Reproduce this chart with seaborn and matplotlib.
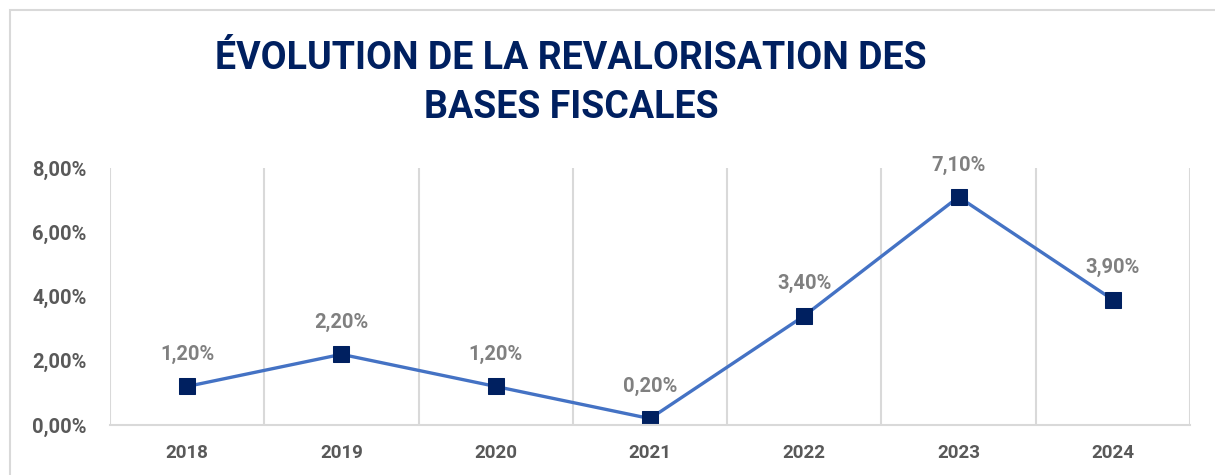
import matplotlib
matplotlib.use('Agg')
import matplotlib.pyplot as plt
import matplotlib.patches as patches
from matplotlib.ticker import FixedLocator, FuncFormatter
import seaborn as sns
import pandas as pd

# Data
annees = ['2018', '2019', '2020', '2021', '2022', '2023', '2024']
taux = [1.2, 2.2, 1.2, 0.2, 3.4, 7.1, 3.9]

titre = 'ÉVOLUTION DE LA REVALORISATION DES\nBASES FISCALES'

navy = '#002060'
line_blue = '#4472C4'
grid_grey = '#D9D9D9'
tick_grey = '#595959'
label_grey = '#808080'

sns.set_theme(style='white')
plt.rcParams['font.family'] = ['Roboto', 'DejaVu Sans']

df = pd.DataFrame({'annee': annees, 'taux': taux})

fig = plt.figure(figsize=(12.15, 4.75), dpi=100)
ax = fig.add_axes([110 / 1215, 1 - 425 / 475, 1080 / 1215, 257 / 475])

sns.lineplot(data=df, x='annee', y='taux', ax=ax, color=line_blue, linewidth=2.4,
             marker='s', markersize=12, markerfacecolor=navy, markeredgecolor=navy)

for i, v in enumerate(taux):
    ax.annotate(f'{v:.2f}%'.replace('.', ','), (i, v), xytext=(0, 23),
                textcoords='offset points', ha='center', va='center',
                fontsize=14.5, fontweight='bold', color=label_grey)

ax.set_xlim(-0.5, len(annees) - 0.5)
ax.set_ylim(0, 8)
ax.yaxis.set_major_locator(FixedLocator([0, 2, 4, 6, 8]))
ax.yaxis.set_major_formatter(FuncFormatter(lambda y, _: f'{y:.2f}%'.replace('.', ',')))

# vertical category separators
ax.xaxis.set_minor_locator(FixedLocator([i - 0.5 for i in range(len(annees) + 1)]))
ax.grid(which='minor', axis='x', color=grid_grey, linewidth=1.5)
ax.grid(which='major', visible=False)
ax.tick_params(which='both', length=0)
ax.tick_params(axis='y', pad=17, labelsize=14.5, labelcolor=tick_grey)
ax.tick_params(axis='x', pad=14, labelsize=13.5, labelcolor=tick_grey)
for lab in ax.get_yticklabels() + ax.get_xticklabels():
    lab.set_fontweight('bold')
ax.set_xlabel('')
ax.set_ylabel('')

for side in ['top', 'left', 'right']:
    ax.spines[side].set_visible(False)
ax.spines['bottom'].set_color(grid_grey)
ax.spines['bottom'].set_linewidth(1.5)

fig.text(571 / 1215, 1 - 83 / 475, titre, ha='center', va='center',
         fontsize=27, fontweight='bold', color=navy, linespacing=1.4)

# outer chart frame
frame = patches.Rectangle((10 / 1215, -0.1), 1.2, 1 - 10 / 475 + 0.1,
                          transform=fig.transFigure, fill=False,
                          edgecolor=grid_grey, linewidth=1.5, clip_on=False)
fig.patches.append(frame)

fig.savefig('out.png', dpi=100)
